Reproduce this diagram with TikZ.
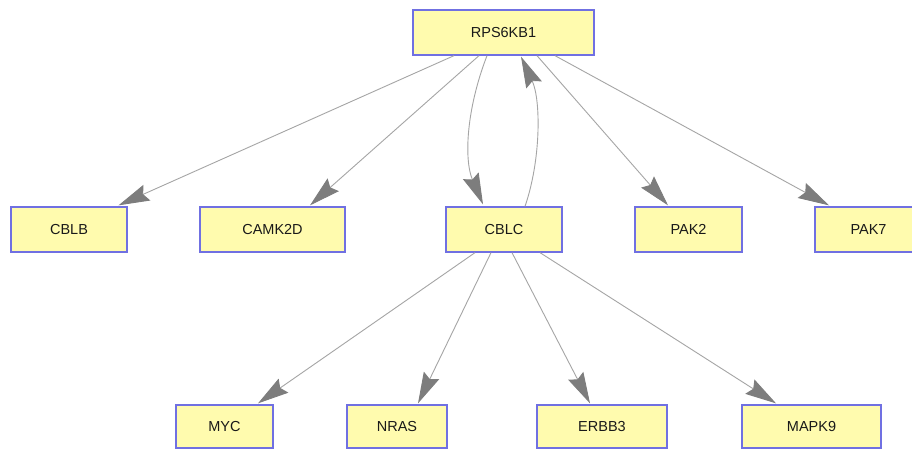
\documentclass[tikz,border=0pt]{standalone}
\usepackage{fontspec}
\setmainfont{Liberation Sans}
\usetikzlibrary{arrows.meta,calc}
\definecolor{nodefill}{RGB}{255,251,174}
\definecolor{nodeline}{RGB}{112,112,226}
\definecolor{edgeline}{RGB}{165,165,165}
\definecolor{headfill}{RGB}{125,125,125}
\definecolor{txt}{RGB}{25,25,25}
\tikzset{
  gene/.style={draw=nodeline, fill=nodefill, line width=1.3pt, rectangle,
    inner sep=0pt, text=txt, font=\fontsize{14.5}{16}\selectfont},
  toprow/.style={minimum height=45pt},
  botrow/.style={minimum height=43pt},
  rel/.style={draw=edgeline, line width=0.9pt,
    -{Stealth[length=31pt,width=17pt,inset=4pt,color=headfill,fill=headfill]}},
}
\begin{document}
\begin{tikzpicture}[x=1pt,y=-1pt]
\useasboundingbox (0,0) rectangle (912,450);
\fill[white] (0,0) rectangle (912,450);
\node[gene, minimum width=181pt, minimum height=45pt] (r) at (503.5,32.5) {RPS6KB1};
\node[gene, toprow, minimum width=116pt] (cblb) at (69,229.5) {CBLB};
\node[gene, toprow, minimum width=145pt] (camk) at (272.5,229.5) {CAMK2D};
\node[gene, toprow, minimum width=116pt] (cblc) at (504,229.5) {CBLC};
\node[gene, toprow, minimum width=107pt] (pak2) at (688.5,229.5) {PAK2};
\node[gene, toprow, minimum width=107pt] (pak7) at (868.5,229.5) {PAK7};
\node[gene, botrow, minimum width=97pt] (myc) at (224.5,426.5) {MYC};
\node[gene, botrow, minimum width=100pt] (nras) at (397,426.5) {NRAS};
\node[gene, botrow, minimum width=130pt] (erbb) at (602,426.5) {ERBB3};
\node[gene, botrow, minimum width=139pt] (mapk) at (811.5,426.5) {MAPK9};
% edges from RPS6KB1
\draw[rel] ($(r.south)+(-49.5,0)$) -- ($(cblb.north)+(49.5,-1)$);
\draw[rel] ($(r.south)+(-24.5,0)$) -- ($(camk.north)+(37.5,-1)$);
\draw[rel] ($(r.south)+(-16.5,0)$) .. controls (466,110) and (464,160) .. ($(cblc.north)+(-21,-2)$);
\draw[rel] ($(cblc.north)+(21,0)$) .. controls (541,160) and (541,100) .. ($(r.south)+(17.5,1)$);
\draw[rel] ($(r.south)+(33.5,0)$) -- ($(pak2.north)+(-20.5,-1)$);
\draw[rel] ($(r.south)+(51.5,0)$) -- ($(pak7.north)+(-39.5,-1)$);
% edges from CBLC
\draw[rel] ($(cblc.south)+(-29,0)$) -- ($(myc.north)+(33.5,-1)$);
\draw[rel] ($(cblc.south)+(-13,0)$) -- ($(nras.north)+(21,-1)$);
\draw[rel] ($(cblc.south)+(8,0)$) -- ($(erbb.north)+(-12,-1)$);
\draw[rel] ($(cblc.south)+(36,0)$) -- ($(mapk.north)+(-35.5,-1)$);
\end{tikzpicture}
\end{document}
